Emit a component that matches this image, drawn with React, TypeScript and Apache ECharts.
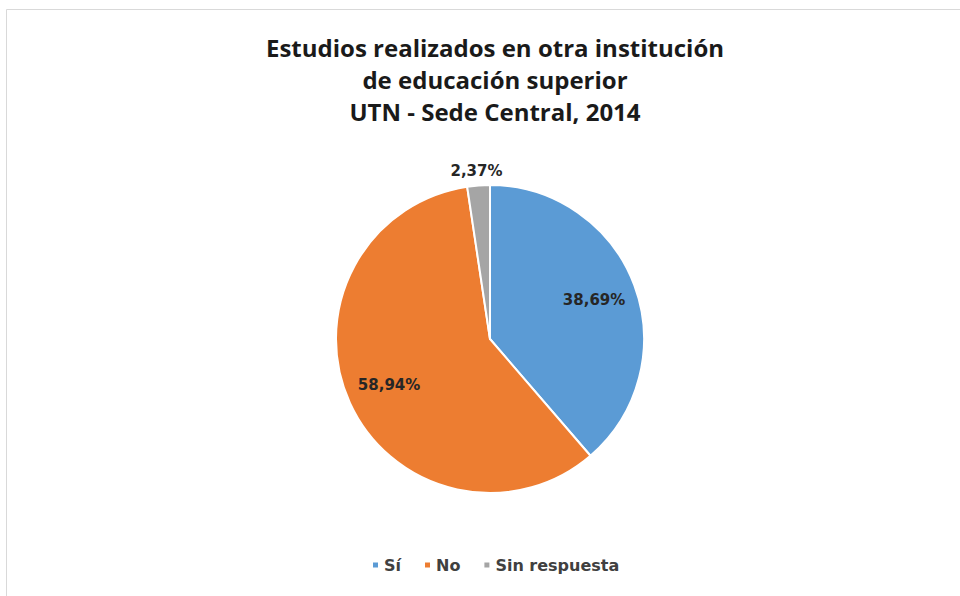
import React, { useEffect, useRef } from "react";
import * as echarts from "echarts";

const categories = ["Sí", "No", "Sin respuesta"];
const values = [38.69, 58.94, 2.37];
const colors = ["#5B9BD5", "#ED7D31", "#A5A5A5"];
const titleText = "Estudios realizados en otra institución\nde educación superior\nUTN - Sede Central, 2014";

const fmt = (v: number) => v.toFixed(2).replace(".", ",") + "%";

export default function App() {
  const ref = useRef<HTMLDivElement>(null);
  useEffect(() => {
    if (!ref.current) return;
    const chart = echarts.init(ref.current, null, { renderer: "svg" });
    const labelStyle = {
      fontFamily: "'DejaVu Sans', sans-serif",
      fontWeight: "bold" as const,
      fontSize: 15,
      color: "#262626",
    };
    const mainData = categories.map((name, i) => ({
      name,
      value: values[i],
      itemStyle: { color: colors[i] },
      label:
        i === 2
          ? { show: true, position: "outside", offset: [30, 0] }
          : { show: false },
      labelLine: { show: false, length: 14, length2: 0 },
    }));
    const overlayData = categories.map((name, i) => ({
      name,
      value: values[i],
      label: { show: i !== 2 },
    }));
    chart.setOption({
      animation: false,
      backgroundColor: "#ffffff",
      graphic: [
        {
          type: "rect",
          shape: { x: 6.5, y: 9.5, width: 1000, height: 700 },
          style: { fill: "none", stroke: "#d9d9d9", lineWidth: 1 },
          silent: true,
        },
      ],
      title: {
        text: titleText,
        left: 490,
        textAlign: "center",
        top: 26,
        textStyle: {
          fontFamily: "'Open Sans', sans-serif",
          fontWeight: "bold",
          fontSize: 24,
          lineHeight: 32,
          color: "#1a1a1a",
        },
      },
      legend: {
        data: categories,
        bottom: 18,
        left: 366,
        itemWidth: 7,
        itemHeight: 7,
        itemGap: 22,
        icon: "rect",
        textStyle: {
          fontFamily: "'DejaVu Sans', sans-serif",
          fontWeight: "bold",
          fontSize: 16,
          color: "#404040",
        },
      },
      series: [
        {
          type: "pie",
          center: [490, 339],
          radius: [0, 154],
          startAngle: 90,
          clockwise: true,
          avoidLabelOverlap: false,
          itemStyle: { borderColor: "#ffffff", borderWidth: 2 },
          label: { ...labelStyle, formatter: (p: any) => fmt(p.value) },
          data: mainData,
        },
        {
          type: "pie",
          center: [490, 339],
          radius: [0, 216],
          startAngle: 90,
          clockwise: true,
          silent: true,
          avoidLabelOverlap: false,
          itemStyle: { color: "rgba(0,0,0,0)" },
          label: {
            ...labelStyle,
            position: "inside",
            formatter: (p: any) => fmt(p.value),
          },
          labelLine: { show: false },
          emphasis: { disabled: true },
          data: overlayData,
        },
      ],
    });
    return () => chart.dispose();
  }, []);
  return (
    <div
      ref={ref}
      style={{ position: "fixed", left: 0, top: 0, width: 960, height: 596 }}
    />
  );
}
